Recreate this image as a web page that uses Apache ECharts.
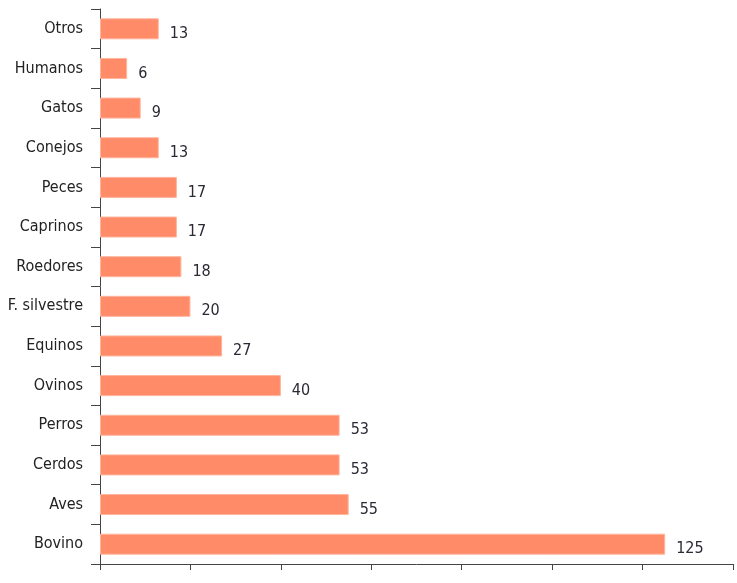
<!DOCTYPE html>
<html><head><meta charset="utf-8">
<script src="https://cdn.jsdelivr.net/npm/echarts@6/dist/echarts.min.js"></script>
<style>html,body{margin:0;padding:0;background:#fff}#c{width:737px;height:583px}</style>
</head><body><div id="c"></div>
<script>
const categories = ["Bovino","Aves","Cerdos","Perros","Ovinos","Equinos","F. silvestre","Roedores","Caprinos","Peces","Conejos","Gatos","Humanos","Otros"];
const values = [125,55,53,53,40,27,20,18,17,17,13,9,6,13];
const xTicks = [0,20,40,60,80,100,120,140];
const FONT = '"Liberation Sans Narrow","DejaVu Sans Condensed","Roboto",sans-serif';
const chart = echarts.init(document.getElementById('c'), null, {renderer:'canvas'});
chart.setOption({
  animation:false,
  grid:{left:100,right:4,top:9,bottom:19,containLabel:false},
  xAxis:{type:'value',min:xTicks[0],max:xTicks[xTicks.length-1],interval:20,
    axisLine:{show:true,lineStyle:{color:'#444',width:1}},
    axisTick:{show:true,length:6,lineStyle:{color:'#444'}},
    axisLabel:{show:false},splitLine:{show:false}},
  yAxis:{type:'category',data:categories,
    axisLine:{show:true,lineStyle:{color:'#444',width:1}},
    axisTick:{show:true,length:9,lineStyle:{color:'#444'}},
    axisLabel:{margin:17,fontFamily:FONT,fontSize:16,color:'#222',padding:[0,0,9,0]}},
  series:[{type:'bar',data:values,barWidth:21,
    itemStyle:{color:'#FF8B69',borderColor:'#FFB49C',borderWidth:1},
    label:{show:true,position:'right',distance:11,offset:[0,5],fontFamily:FONT,fontSize:16,color:'#2a2a35'}}]
});
</script></body></html>
